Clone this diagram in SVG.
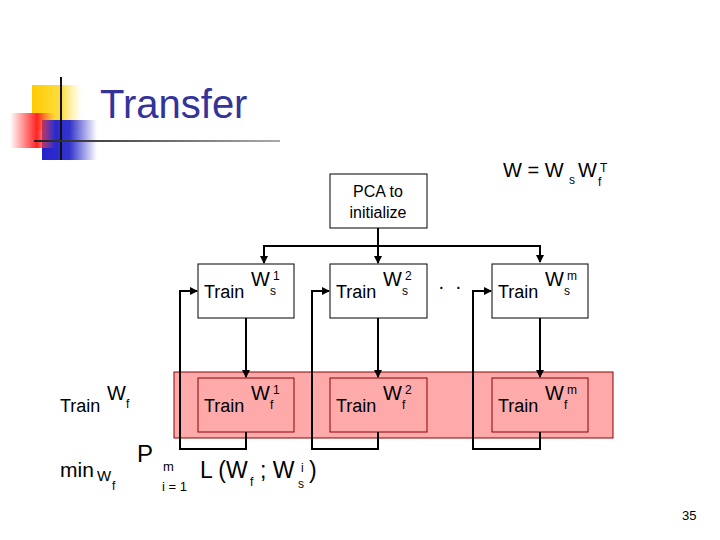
<svg xmlns="http://www.w3.org/2000/svg" width="720" height="540" viewBox="0 0 720 540">
<defs>
<style>
.t{font-family:"Liberation Sans",Arial,sans-serif;fill:#000}
.tr{font-size:18px}
.w{font-size:20px}
.s{font-size:12px}
.b{fill:#fff;stroke:#000;stroke-width:1}
.f{fill:none;stroke:#8b0000;stroke-width:1}
.c{fill:none;stroke:#000;stroke-width:2}
</style>
<marker id="a" markerWidth="8" markerHeight="8" refX="7" refY="4" orient="auto" markerUnits="userSpaceOnUse"><path d="M0,0L8,4L0,8z" fill="#000"/></marker>
<linearGradient id="gr" x1="0" x2="1"><stop offset="0" stop-color="#fff"/><stop offset="0.6" stop-color="#f22"/><stop offset="1" stop-color="#f66" stop-opacity="0"/></linearGradient>
<linearGradient id="gb" x1="0" x2="1"><stop offset="0" stop-color="#22c"/><stop offset="0.5" stop-color="#33c"/><stop offset="1" stop-color="#33c" stop-opacity="0"/></linearGradient>
<linearGradient id="gy" x1="0" x2="1"><stop offset="0" stop-color="#fc0"/><stop offset="0.6" stop-color="#fd4"/><stop offset="1" stop-color="#fe8" stop-opacity="0"/></linearGradient>
<linearGradient id="gl" gradientUnits="userSpaceOnUse" x1="34" y1="0" x2="280" y2="0"><stop offset="0" stop-color="#222"/><stop offset="1" stop-color="#aaa"/></linearGradient>
</defs>
<g id="logo">
<rect x="32" y="85" width="50" height="45" fill="url(#gy)"/>
<rect x="42" y="120" width="55" height="40" fill="url(#gb)"/>
<rect x="10" y="113" width="45" height="35" fill="url(#gr)"/>
<line x1="61" y1="77" x2="61" y2="160" stroke="#111" stroke-width="2"/>
<line x1="34" y1="141" x2="280" y2="141" stroke="url(#gl)" stroke-width="2"/>
</g>
<text class="t" x="100" y="118" font-size="40" style="fill:#333399">Transfer</text>
<g id="eq">
<text class="t w" x="503" y="177">W = W</text>
<text class="t s" x="569" y="184">s</text>
<text class="t w" x="578" y="177">W</text>
<text class="t s" x="598" y="186">f</text>
<text class="t s" x="600" y="172">T</text>
</g>
<rect id="band" x="174" y="372" width="439" height="66" fill="#ffaaaa" stroke="#8b0000" stroke-width="1"/>
<g id="pca"><rect class="b" x="330" y="174" width="97" height="54"/>
<text class="t" x="378" y="197" font-size="16" text-anchor="middle">PCA to</text>
<text class="t" x="378" y="218" font-size="16" text-anchor="middle">initialize</text></g>
<g id="s1"><rect class="b" x="198" y="264" width="96" height="54"/><text class="t tr" x="204" y="298">Train</text><text class="t w" x="251" y="286">W</text><text class="t s" x="270" y="295">s</text><text class="t s" x="273" y="280">1</text></g>
<g id="s2"><rect class="b" x="330" y="264" width="97" height="54"/><text class="t tr" x="336" y="298">Train</text><text class="t w" x="383" y="286">W</text><text class="t s" x="402" y="295">s</text><text class="t s" x="405" y="280">2</text></g>
<g id="s3"><rect class="b" x="492" y="264" width="96" height="54"/><text class="t tr" x="498" y="298">Train</text><text class="t w" x="545" y="286">W</text><text class="t s" x="564" y="295">s</text><text class="t s" x="567" y="280">m</text></g>
<g id="f1"><rect class="f" x="198" y="378" width="96" height="54"/><text class="t tr" x="204" y="412">Train</text><text class="t w" x="251" y="400">W</text><text class="t s" x="270" y="409">f</text><text class="t s" x="273" y="394">1</text></g>
<g id="f2"><rect class="f" x="330" y="378" width="97" height="54"/><text class="t tr" x="336" y="412">Train</text><text class="t w" x="383" y="400">W</text><text class="t s" x="402" y="409">f</text><text class="t s" x="405" y="394">2</text></g>
<g id="f3"><rect class="f" x="492" y="378" width="96" height="54"/><text class="t tr" x="498" y="412">Train</text><text class="t w" x="545" y="400">W</text><text class="t s" x="564" y="409">f</text><text class="t s" x="567" y="394">m</text></g>
<text class="t" x="438" y="293" font-size="20">·</text><text class="t" x="455" y="293" font-size="20">·</text>
<g id="wf"><text class="t tr" x="60" y="412">Train</text><text class="t w" x="107" y="400">W</text><text class="t s" x="126" y="408">f</text></g>
<g id="obj">
<text class="t" x="60" y="477" font-size="21">min</text>
<text class="t" x="97" y="481" font-size="15">W</text>
<text class="t s" x="112" y="490">f</text>
<text class="t" x="137" y="462" font-size="24">P</text>
<text class="t" x="163" y="471" font-size="13">m</text>
<text class="t" x="162" y="491" font-size="13">i = 1</text>
<text class="t" x="200" y="478" font-size="23">L (W</text>
<text class="t s" x="250" y="486">f</text>
<text class="t" x="260" y="478" font-size="23">; W</text>
<text class="t s" x="298" y="488">s</text>
<text class="t s" x="301" y="472">i</text>
<text class="t" x="309" y="478" font-size="23">)</text>
</g>
<text class="t" x="682" y="520" font-size="13">35</text>
<g id="connectors">
<path class="c" d="M378,228V263"/>
<path class="c" d="M264,262V246H540V262" marker-end="url(#a)"/>
<path class="c" d="M264,246V263" marker-end="url(#a)"/>
<path class="c" d="M378,246V263" marker-end="url(#a)"/>
<path class="c" d="M246,318V377" marker-end="url(#a)"/>
<path class="c" d="M378,318V377" marker-end="url(#a)"/>
<path class="c" d="M540,318V377" marker-end="url(#a)"/>
<path class="c" d="M246,432V449H180V291H197" marker-end="url(#a)"/>
<path class="c" d="M378,432V449H312V291H329" marker-end="url(#a)"/>
<path class="c" d="M540,432V449H473V291H491" marker-end="url(#a)"/>
</g>
</svg>
